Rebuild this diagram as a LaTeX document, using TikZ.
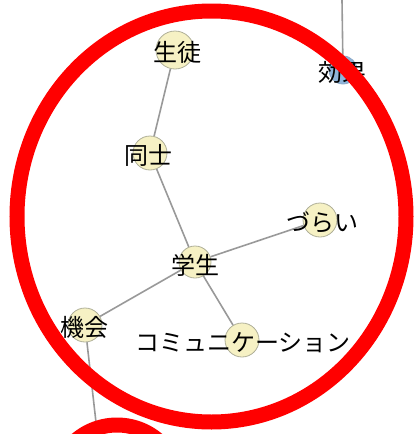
\documentclass[tikz,border=0pt]{standalone}
\usepackage{fontspec}
\usetikzlibrary{shapes.geometric}
\newfontfamily\jp{Noto Sans CJK JP}
\definecolor{nodefill}{HTML}{F6F1C4}
\definecolor{nodeline}{HTML}{AFAF98}
\definecolor{bluefill}{HTML}{8EB4DA}
\definecolor{edgegray}{HTML}{999999}
\definecolor{ringred}{HTML}{FF0000}
\begin{document}
\begin{tikzpicture}[x=1pt,y=-1pt,
  vert/.style={circle, draw=nodeline, line width=0.8pt, fill=nodefill, inner sep=0pt, minimum size=34pt},
  bvert/.style={vert, fill=bluefill, draw=bluefill!80!gray},
  lbl/.style={font=\jp\fontsize{24}{24}\selectfont, inner sep=0pt, text=black},
  edgeline/.style={draw=edgegray, line width=1.6pt},
  ring/.style={draw=ringred, line width=15pt}]
\useasboundingbox (0,0) rectangle (413,434);
% vertices
\node[vert, minimum size=38pt] (seito) at (175,50) {};
\node[vert] (doushi) at (150,153) {};
\node[vert] (zurai) at (320,220) {};
\node[vert, minimum size=32pt] (gakusei) at (195,262) {};
\node[vert] (kikai) at (85,325) {};
\node[vert] (comm) at (242,340) {};
\node[bvert, minimum size=28pt] (kouka) at (343,70) {};
\coordinate (topend) at (342,0);
\coordinate (botend) at (98,440);
% edges
\draw[edgeline] (seito) -- (doushi);
\draw[edgeline] (doushi) -- (gakusei);
\draw[edgeline] (gakusei) -- (zurai);
\draw[edgeline] (gakusei) -- (kikai);
\draw[edgeline] (gakusei) -- (comm);
\draw[edgeline] (kikai) -- (botend);
\draw[edgeline] (kouka) -- (topend);
% labels
\node[lbl] (tseito) at (177,52) {生徒};
\node[lbl] (tdoushi) at (148,155) {同士};
\node[lbl] (tzurai) at (322,222) {づらい};
\node[lbl] (tgakusei) at (195,265) {学生};
\node[lbl] (tkikai) at (84,327) {機会};
\node[lbl] (tcomm) at (243,343) {コミュニケーション};
\node[lbl] (tkouka) at (342,72) {効果};
% red rings
\node[ring, ellipse, minimum width=389pt, minimum height=411pt, inner sep=0pt] (ring1) at (211.5,216.5) {};
\node[ring, circle, minimum size=126pt, inner sep=0pt] (ring2) at (117,488) {};
\end{tikzpicture}
\end{document}
